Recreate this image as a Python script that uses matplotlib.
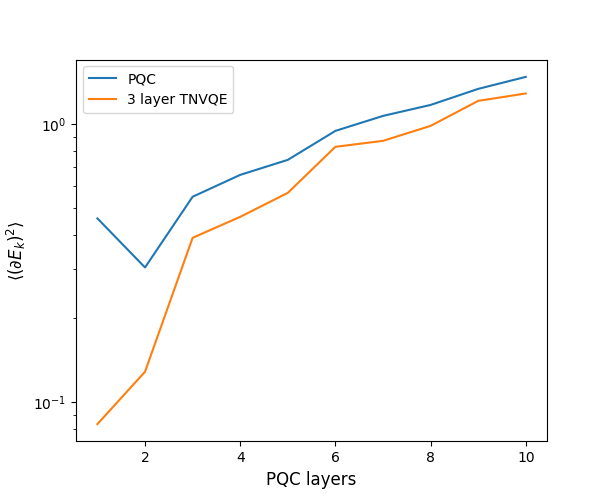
import matplotlib
matplotlib.use('Agg')
import matplotlib.pyplot as plt

layers = [1, 2, 3, 4, 5, 6, 7, 8, 9, 10]
pqc = [0.458, 0.305, 0.548, 0.657, 0.744, 0.946, 1.071, 1.173, 1.34, 1.48]
tnvqe = [0.0833, 0.1285, 0.390, 0.464, 0.566, 0.829, 0.871, 0.986, 1.213, 1.29]

fig = plt.figure(figsize=(6.08, 4.96), dpi=100)
ax = fig.add_subplot(1, 1, 1)

# plot
ax.plot(layers, pqc, label='PQC')
ax.plot(layers, tnvqe, label='3 layer TNVQE')
ax.set_yscale('log')

# axes
ax.set_xlabel('PQC layers', fontsize=12)
ax.set_ylabel(r'$\langle(\partial E_k)^2\rangle$', fontsize=12)

ax.legend(loc='upper left')

plt.savefig('out.png', dpi=100)
plt.close()
